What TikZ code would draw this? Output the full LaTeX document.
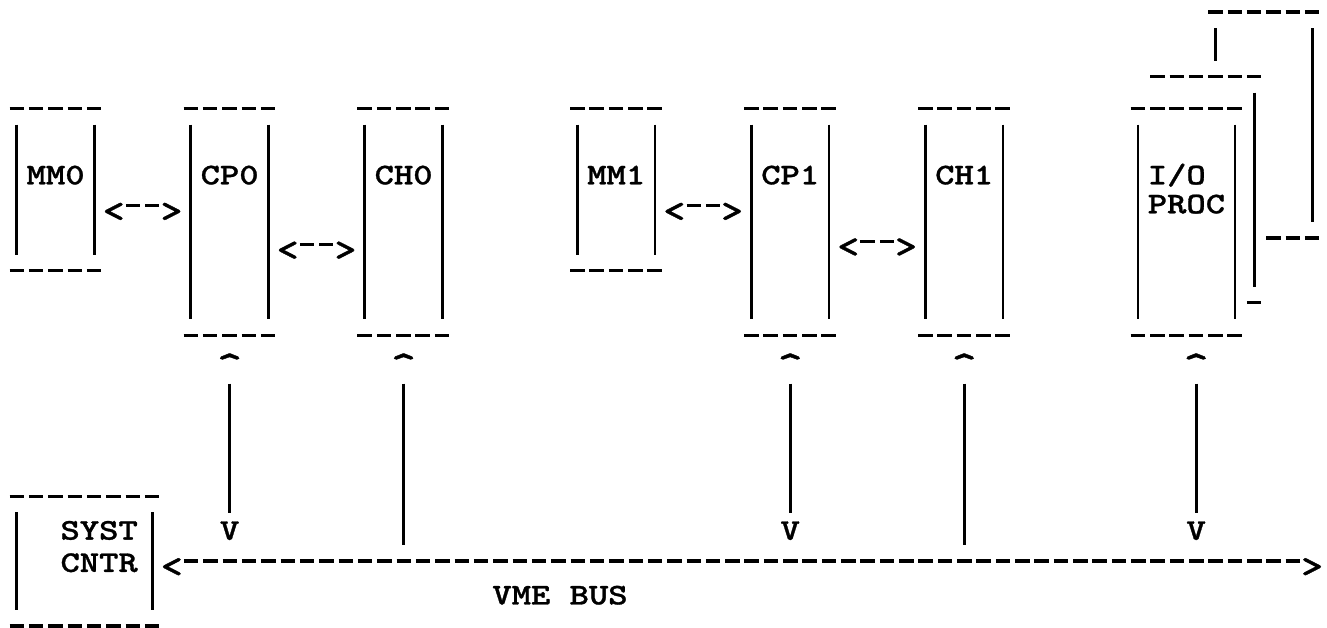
\documentclass[tikz,border=0pt]{standalone}
\usepackage{fontspec}
\newfontfamily\typer{lmmonolt10-bold.otf}[FakeStretch=1.227, FakeBold=1]
\newlength\cw \setlength\cw{19.33pt}
\newlength\rh \setlength\rh{32.3pt}

\begin{document}
\begin{tikzpicture}[
  x=\cw, y=-\rh,
  board/.style={inner sep=0pt, minimum width=4\cw},
  typed/.style={line width=3.3pt, dash pattern=on 14.5pt off 4.83pt},
  wall/.style={line width=2.8pt},
  link/.style={line width=3pt},
  lbl/.style={font=\typer\fontsize{30pt}{32.3pt}\selectfont,
              inner sep=0pt, anchor=base west},
  glyph/.style={lbl, anchor=base, yshift=-11pt},
  chev/.style={glyph, font=\typer\fontsize{34pt}{36pt}\selectfont, yshift=-5pt},
  caret/.style={glyph, font=\typer\fontsize{40pt}{40pt}\selectfont}
]
\useasboundingbox (-0.8795,-0.3715) rectangle (67.77,19.071);

\node[board, minimum height=5\rh,
  label={[lbl,xshift=.5\cw,yshift=-2\rh-11pt]north west:MM0}] (mm0) at (2,5.5) {};
\node[board, minimum height=7\rh,
  label={[lbl,xshift=.5\cw,yshift=-2\rh-11pt]north west:CP0}] (cp0) at (11,6.5) {};
\node[board, minimum height=7\rh,
  label={[lbl,xshift=.5\cw,yshift=-2\rh-11pt]north west:CH0}] (ch0) at (20,6.5) {};
\node[board, minimum height=5\rh,
  label={[lbl,xshift=.5\cw,yshift=-2\rh-11pt]north west:MM1}] (mm1) at (31,5.5) {};
\node[board, minimum height=7\rh,
  label={[lbl,xshift=.5\cw,yshift=-2\rh-11pt]north west:CP1}] (cp1) at (40,6.5) {};
\node[board, minimum height=7\rh,
  label={[lbl,xshift=.5\cw,yshift=-2\rh-11pt]north west:CH1}] (ch1) at (49,6.5) {};
\node[board, minimum width=5\cw, minimum height=7\rh,
  label={[lbl,xshift=.5\cw,yshift=-2\rh-11pt]north west:I/O},
  label={[lbl,xshift=.5\cw,yshift=-2\rh-40pt]north west:PROC}] (io) at (60.5,6.5) {};
\node[board, minimum width=7\cw, minimum height=4\rh,
  label={[lbl,xshift=2.25\cw,yshift=-\rh-11pt]north west:SYST},
  label={[lbl,xshift=2.25\cw,yshift=-2\rh-11pt]north west:CNTR}] (sc) at (3.5,17) {};

\foreach \b in {mm0,cp0,ch0,mm1,cp1,ch1,io,sc} {
  \draw[typed] ([xshift=-7.25pt]\b.north west) -- ([xshift=7.25pt]\b.north east);
  \draw[typed] ([xshift=-7.25pt]\b.south west) -- ([xshift=7.25pt]\b.south east);
  \draw[wall] ([yshift=-16pt]\b.north west) -- ([yshift=16pt]\b.south west);
  \draw[wall] ([yshift=-16pt]\b.north east) -- ([yshift=16pt]\b.south east);
}

\draw[typed] ([xshift=-7.25pt]62,0) -- ([xshift=7.25pt]67,0);
\draw[wall] ([yshift=-16pt]62,0) -- ([yshift=16pt]62,2);
\draw[wall] ([yshift=-16pt]67,0) -- ([yshift=16pt]67,7);
\draw[typed] ([xshift=-7.25pt]65,7) -- ([xshift=7.25pt]67,7);
\draw[typed] ([xshift=-7.25pt]59,2) -- ([xshift=7.25pt]64,2);
\draw[wall] ([yshift=-16pt]64,2) -- ([yshift=16pt]64,9);
\draw[typed] ([xshift=-7.25pt]64,9) -- ([xshift=7.25pt]64,9);

\coordinate (busend) at (68,17);
\coordinate (iolink) at ([xshift=.5\cw]io.south);

\draw[typed, shorten <=31.4pt, shorten >=31.4pt] (mm0.east |- 0,6) -- (cp0.west |- 0,6)
  node[chev, pos=.2]{<} node[chev, pos=.8]{>};
\draw[typed, shorten <=31.4pt, shorten >=31.4pt] (cp0.east |- 0,7.2) -- (ch0.west |- 0,7.2)
  node[chev, pos=.2]{<} node[chev, pos=.8]{>};
\draw[typed, shorten <=31.4pt, shorten >=31.4pt] (mm1.east |- 0,6) -- (cp1.west |- 0,6)
  node[chev, pos=.2]{<} node[chev, pos=.8]{>};
\draw[typed, shorten <=31.4pt, shorten >=31.4pt] (cp1.east |- 0,7.1) -- (ch1.west |- 0,7.1)
  node[chev, pos=.2]{<} node[chev, pos=.8]{>};
\draw[typed, shorten <=31.4pt, shorten >=31.4pt] (sc.east) -- (busend)
  node[chev, pos=1/61]{<} node[chev, pos=60/61]{>}
  node[lbl, pos=17.5/61, yshift=-\rh-11pt]{VME BUS};

\draw[link, shorten <=48.3pt, shorten >=48.6pt] (cp0.south) -- (cp0.south |- busend)
  node[caret, pos=1/7]{\textasciicircum} node[glyph, pos=6/7]{V};
\draw[link, shorten <=48.3pt, shorten >=16.3pt] (ch0.south) -- (ch0.south |- busend)
  node[caret, pos=1/7]{\textasciicircum};
\draw[link, shorten <=48.3pt, shorten >=48.6pt] (cp1.south) -- (cp1.south |- busend)
  node[caret, pos=1/7]{\textasciicircum} node[glyph, pos=6/7]{V};
\draw[link, shorten <=48.3pt, shorten >=16.3pt] (ch1.south) -- (ch1.south |- busend)
  node[caret, pos=1/7]{\textasciicircum};
\draw[link, shorten <=48.3pt, shorten >=48.6pt] (iolink) -- (iolink |- busend)
  node[caret, pos=1/7]{\textasciicircum} node[glyph, pos=6/7]{V};
\end{tikzpicture}
\end{document}
